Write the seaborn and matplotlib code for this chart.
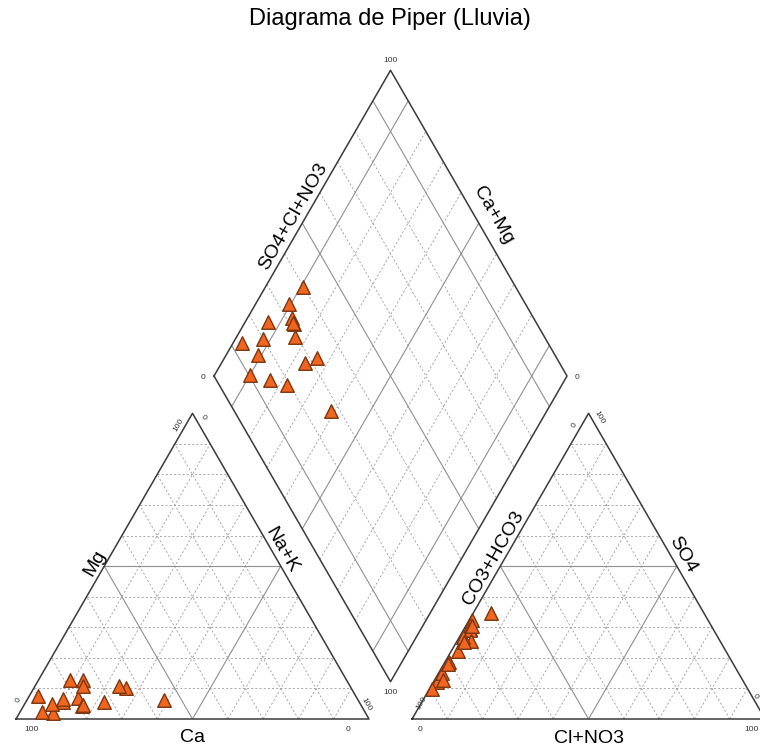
import numpy as np
import pandas as pd
import matplotlib
matplotlib.use("Agg")
import matplotlib.pyplot as plt
import seaborn as sns

# Rain samples, major ions as % of meq (cations / anions)
ca = [83.9, 88.6, 74.6, 79.0, 75.5, 79.1, 91.4, 87.4, 90.0, 78.2, 63.9, 65.3, 83.4, 78.8, 72.2, 55.1]
mg = [5.6, 1.9, 12.8, 6.8, 10.9, 4.4, 2.2, 4.8, 7.6, 12.8, 10.0, 10.9, 6.5, 4.6, 5.7, 6.1]
na_k = [10.5, 9.5, 12.6, 14.2, 13.6, 16.5, 6.4, 7.8, 2.4, 9.0, 26.1, 23.8, 10.1, 16.6, 22.1, 38.8]
hco3 = [60.3, 67.0, 68.3, 68.9, 69.0, 70.6, 75.8, 80.0, 86.8, 84.0, 67.9, 72.1, 89.5, 84.7, 80.9, 72.8]
so4 = [34.6, 32.3, 30.7, 29.6, 29.0, 25.4, 22.2, 18.8, 12.1, 14.9, 30.3, 26.9, 9.7, 12.8, 18.1, 25.2]
cl = [5.1, 0.7, 1.0, 1.5, 2.0, 4.0, 2.0, 1.2, 1.1, 1.1, 1.8, 1.0, 0.8, 2.5, 1.0, 2.0]

title = "Diagrama de Piper (Lluvia)"

GAP = 0.122
H = np.sqrt(3) / 2

OUTLINE = dict(color="#3a3a3a", lw=1.1, zorder=3)
SOLID = dict(color="#8f8f8f", lw=0.8, zorder=2)
DASHED = dict(color="#9c9c9c", lw=0.6, ls=(0, (2.5, 2.5)), zorder=1)


def dpt(a, b):
    # diamond point from the two projection intercepts
    return ((a + b) / 2, (b - a) * np.sqrt(3) / 2)


def seg(ax, p, q, **kw):
    ax.plot([p[0], q[0]], [p[1], q[1]], solid_capstyle="butt", **kw)


def draw_triangle(ax, x0):
    for k in np.arange(1, 10) / 10:
        st = SOLID if np.isclose(k, 0.5) else DASHED
        seg(ax, (x0 + k / 2, k * H), (x0 + 1 - k / 2, k * H), **st)
        seg(ax, (x0 + k, 0), (x0 + k + (1 - k) / 2, (1 - k) * H), **st)
        seg(ax, (x0 + 1 - k, 0), (x0 + (1 - k) / 2, (1 - k) * H), **st)
    ax.plot([x0, x0 + 1, x0 + 0.5, x0], [0, 0, H, 0], **OUTLINE)


def draw_diamond(ax):
    for k in np.arange(1, 10) / 10:
        st = SOLID if any(np.isclose(k, v) for v in (0.1, 0.5, 0.9)) else DASHED
        seg(ax, dpt(k, 1 + GAP), dpt(k, 2 + GAP), **st)
        seg(ax, dpt(0, 1 + GAP + k), dpt(1, 1 + GAP + k), **st)
    corners = [dpt(0, 1 + GAP), dpt(1, 1 + GAP), dpt(1, 2 + GAP), dpt(0, 2 + GAP), dpt(0, 1 + GAP)]
    ax.plot([c[0] for c in corners], [c[1] for c in corners], **OUTLINE)


# --- positions of every sample in the three panels ---
f_mg = np.array(mg) / 100
f_nak = np.array(na_k) / 100
f_so4 = np.array(so4) / 100
f_cl = np.array(cl) / 100

cat_x = f_nak + 0.5 * f_mg
cat_y = H * f_mg
an_x = 1 + GAP + f_cl + 0.5 * f_so4
an_y = H * f_so4
dia_x, dia_y = dpt(f_nak, 1 + GAP + f_so4 + f_cl)

df = pd.DataFrame({
    "x": np.concatenate([cat_x, an_x, dia_x]),
    "y": np.concatenate([cat_y, an_y, dia_y]),
    "panel": ["cationes"] * len(ca) + ["aniones"] * len(hco3) + ["rombo"] * len(ca),
})

plt.rcParams["font.family"] = ["Liberation Sans", "DejaVu Sans"]

fig = plt.figure(figsize=(7.6, 7.5), dpi=100)
ax = fig.add_axes([0, 0, 1, 1])

draw_triangle(ax, 0)
draw_triangle(ax, 1 + GAP)
draw_diamond(ax)

sns.scatterplot(data=df, x="x", y="y", marker="^", s=95, color="#F0661F",
                edgecolor="#7d3510", linewidth=1.0, legend=False, ax=ax, zorder=5)

# axis names
lab = dict(fontsize=14, color="black", ha="center", va="center", rotation_mode="anchor")
ax.text(0.224, 0.442, "Mg", rotation=60, **lab)
ax.text(0.752, 0.478, "Na+K", rotation=-60, **lab)
ax.text(0.5, -0.052, "Ca", **lab)
ax.text(1.354, 0.456, "CO3+HCO3", rotation=60, **lab)
ax.text(1.889, 0.465, "SO4", rotation=-60, **lab)
ax.text(1.5 + GAP, -0.055, "Cl+NO3", **lab)
ax.text(0.786, 1.423, "SO4+Cl+NO3", rotation=60, **lab)
ax.text(1.352, 1.428, "Ca+Mg", rotation=-60, **lab)

# end-point labels
tk = dict(fontsize=6, color="#333333", ha="center", va="center", rotation_mode="anchor")
top = dpt(0, 2 + GAP)
bot = dpt(1, 1 + GAP)
left = dpt(0, 1 + GAP)
right = dpt(1, 2 + GAP)
ax.text(top[0], top[1] + 0.027, "100", **tk)
ax.text(bot[0], bot[1] - 0.030, "100", **tk)
ax.text(left[0] - 0.030, left[1] - 0.004, "0", **tk)
ax.text(right[0] + 0.028, right[1] - 0.004, "0", **tk)

for x0, lt, lb, rt, rb, bl, br in [(0, "100", "0", "0", "100", "100", "0"),
                                   (1 + GAP, "0", "100", "100", "0", "0", "100")]:
    ax.text(x0 + 0.5 - 0.040, H - 0.033, lt, rotation=60, **tk)
    ax.text(x0 + 0.5 + 0.030, H - 0.011, rt, rotation=-60, **tk)
    ax.text(x0 + 0.007 + (0.019 if lb == "100" else 0), 0.052 - (0.008 if lb == "100" else 0), lb, rotation=60, **tk)
    ax.text(x0 + 0.993 - (0.022 if rb == "0" else 0), 0.042 + (0.022 if rb == "0" else 0), rb, rotation=-60, **tk)
    ax.text(x0 + 0.045 - (0.022 if bl == "0" else 0), -0.031, bl, **tk)
    ax.text(x0 + 0.940 + (0.022 if br == "100" else 0), -0.031, br, **tk)

ax.text(1.06, 1.982, title, fontsize=17, ha="center", va="center")

ax.set_xlim(-16 / 353, 744 / 353)
ax.set_ylim(-31 / 353, 719 / 353)
ax.axis("off")

fig.savefig("out.png", dpi=100)
